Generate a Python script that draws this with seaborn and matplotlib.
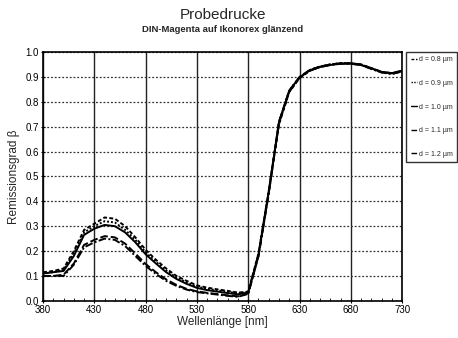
import numpy as np
import pandas as pd
import matplotlib
matplotlib.use("Agg")
import matplotlib.pyplot as plt
import seaborn as sns
from matplotlib.ticker import MultipleLocator

# wavelengths in nm
wavelength = [380, 390, 400, 410, 420, 430, 440, 450, 460, 470, 480, 490,
              500, 510, 520, 530, 540, 550, 560, 570, 580, 590, 600, 610,
              620, 630, 640, 650, 660, 670, 680, 690, 700, 710, 720, 730]
x_ticks = [380, 430, 480, 530, 580, 630, 680, 730]

# Remissionsgrad per layer thickness
r_08 = [0.115, 0.12, 0.13, 0.20, 0.285, 0.31, 0.335, 0.33, 0.30, 0.255, 0.205, 0.165,
        0.13, 0.10, 0.08, 0.062, 0.053, 0.046, 0.04, 0.033, 0.037, 0.19, 0.44, 0.71,
        0.84, 0.895, 0.925, 0.94, 0.95, 0.955, 0.955, 0.95, 0.935, 0.92, 0.915, 0.925]
r_09 = [0.11, 0.115, 0.125, 0.19, 0.275, 0.30, 0.32, 0.315, 0.285, 0.245, 0.195, 0.157,
        0.122, 0.094, 0.074, 0.057, 0.048, 0.042, 0.036, 0.03, 0.035, 0.19, 0.44, 0.715,
        0.845, 0.90, 0.928, 0.942, 0.95, 0.955, 0.955, 0.948, 0.933, 0.918, 0.912, 0.922]
r_10 = [0.11, 0.115, 0.12, 0.18, 0.265, 0.29, 0.305, 0.30, 0.275, 0.235, 0.187, 0.15,
        0.115, 0.088, 0.068, 0.052, 0.043, 0.037, 0.031, 0.026, 0.033, 0.185, 0.44, 0.72,
        0.845, 0.898, 0.926, 0.94, 0.948, 0.953, 0.953, 0.948, 0.935, 0.92, 0.915, 0.925]
r_11 = [0.10, 0.10, 0.105, 0.15, 0.225, 0.245, 0.26, 0.255, 0.23, 0.19, 0.148, 0.115,
        0.086, 0.064, 0.048, 0.038, 0.032, 0.027, 0.022, 0.018, 0.03, 0.18, 0.435, 0.72,
        0.845, 0.90, 0.928, 0.942, 0.95, 0.955, 0.955, 0.95, 0.935, 0.92, 0.915, 0.925]
r_12 = [0.10, 0.10, 0.10, 0.145, 0.215, 0.235, 0.25, 0.245, 0.22, 0.18, 0.14, 0.108,
        0.08, 0.06, 0.045, 0.035, 0.03, 0.025, 0.02, 0.016, 0.028, 0.18, 0.43, 0.715,
        0.84, 0.897, 0.925, 0.94, 0.948, 0.953, 0.953, 0.948, 0.932, 0.918, 0.912, 0.922]

labels = ["d = 0.8 µm", "d = 0.9 µm", "d = 1.0 µm", "d = 1.1 µm", "d = 1.2 µm"]
series = [r_08, r_09, r_10, r_11, r_12]
styles = [(0, (2, 1.2)), (0, (1, 1)), "-", (0, (4, 1.5)), (0, (4, 1.2, 1, 1.2))]

sns.set_style("white")
plt.rcParams['font.family'] = ['Liberation Sans', 'DejaVu Sans']

fig = plt.figure(figsize=(4.58, 3.38), dpi=100)
ax = fig.add_axes([0.094, 0.11, 0.784, 0.736])

for lab, vals, ls in zip(labels, series, styles):
    df = pd.DataFrame({'wl': wavelength, 'r': vals})
    sns.lineplot(data=df, x='wl', y='r', ax=ax, color='black', linewidth=1.4,
                 linestyle=ls, label=lab)

ax.set_xlim(380, 730)
ax.set_ylim(0, 1.0)
ax.set_xticks(x_ticks)
ax.set_xticklabels([str(t) for t in x_ticks])
ax.xaxis.set_minor_locator(MultipleLocator(10))
ax.yaxis.set_major_locator(MultipleLocator(0.1))
ax.set_yticklabels([f"{v:.1f}" for v in ax.get_yticks()])

ax.grid(axis='x', which='major', color='#222222', linewidth=1.0, linestyle='-')
ax.grid(axis='y', which='major', color='#333333', linewidth=0.9, linestyle=(0, (1.5, 1.5)))
ax.tick_params(axis='both', which='major', labelsize=7, length=3, direction='inout',
               width=0.8, pad=1.5, colors='black')
ax.tick_params(axis='x', which='minor', length=2.5, direction='in', width=0.7, bottom=True)
ax.tick_params(axis='x', which='major', bottom=True)
ax.tick_params(axis='y', which='major', left=True)
for sp in ax.spines.values():
    sp.set_color('black')
    sp.set_linewidth(1.2)

ax.set_xlabel("Wellenlänge [nm]", fontsize=8.5, labelpad=1)
ax.set_ylabel("Remissionsgrad β", fontsize=8.5, labelpad=4)

fig.text(0.486, 0.955, "Probedrucke", ha='center', va='center', fontsize=11)
fig.text(0.486, 0.912, "DIN-Magenta auf Ikonorex glänzend", ha='center', va='center',
         fontsize=6.8, fontweight='bold')

leg = ax.legend(loc='upper left', bbox_to_anchor=(1.012, 1.0), fontsize=5,
                handlelength=0.9, handletextpad=0.25, labelspacing=2.4,
                borderpad=0.6, borderaxespad=0, frameon=True, fancybox=False)
leg.get_frame().set_edgecolor('black')
leg.get_frame().set_linewidth(1.0)
for line in leg.get_lines():
    line.set_linewidth(1.0)

fig.savefig("out.png", dpi=100, facecolor='white')
